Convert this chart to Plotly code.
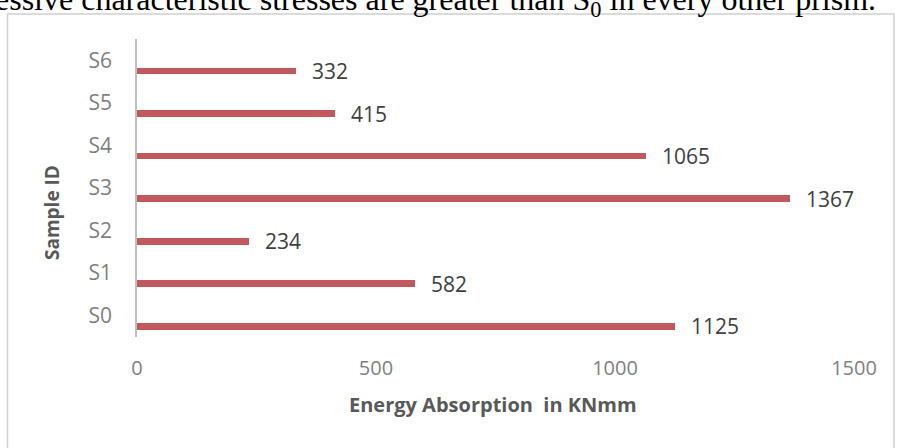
import plotly.graph_objects as go

# Energy absorption per sample
samples = ["S0", "S1", "S2", "S3", "S4", "S5", "S6"]
energy = [1125, 582, 234, 1367, 1065, 415, 332]
x_ticks = [0, 500, 1000, 1500]

W, H = 900, 448
L, R, T, B = 137, 46, 39, 111
PW, PH = W - L - R, H - T - B


def px(x):
    return (x - L) / PW


def py(y):
    return (H - B - y) / PH


BAR_COLOR = "#C0585C"
FONT = "Open Sans"

pos = list(range(len(samples)))
bar_y = [p - 0.25 for p in pos]

fig = go.Figure()
fig.add_trace(go.Bar(
    x=energy,
    y=bar_y,
    orientation="h",
    width=0.16,
    marker=dict(color=BAR_COLOR, line=dict(width=0)),
    hoverinfo="skip",
))

annotations = []
for v, yb in zip(energy, bar_y):
    annotations.append(dict(
        x=v, y=yb, xref="x", yref="y", text=str(v), showarrow=False,
        xanchor="left", yanchor="middle", xshift=14,
        font=dict(family=FONT, size=21, color="#404040"),
    ))

# axis titles
annotations.append(dict(
    x=px(493), y=py(404), xref="paper", yref="paper",
    text="<b>Energy Absorption  in KNmm</b>", showarrow=False,
    xanchor="center", yanchor="middle",
    font=dict(family=FONT, size=20, color="#595959"),
))
annotations.append(dict(
    x=px(52), y=py(213), xref="paper", yref="paper",
    text="<b>Sample ID</b>", showarrow=False, textangle=-90,
    xanchor="center", yanchor="middle",
    font=dict(family=FONT, size=19, color="#595959"),
))

# running text line above the chart frame
annotations.append(dict(
    x=px(878), y=py(2), xref="paper", yref="paper",
    text="essive characteristic stresses are greater than S<sub>0</sub> in every other prism.",
    showarrow=False, xanchor="right", yanchor="middle",
    font=dict(family="Liberation Serif", size=32, color="#000000"),
))

shapes = [dict(
    type="rect", xref="paper", yref="paper",
    x0=px(7.5), x1=px(894), y0=py(470), y1=py(14),
    line=dict(color="#D0D0D0", width=1.5), fillcolor="rgba(0,0,0,0)",
    layer="below",
)]

fig.update_layout(
    width=W, height=H,
    margin=dict(l=L, r=R, t=T, b=B, pad=0),
    paper_bgcolor="white", plot_bgcolor="white",
    showlegend=False,
    bargap=0,
    annotations=annotations,
    shapes=shapes,
    xaxis=dict(
        range=[0, 1500], tickvals=x_ticks, ticktext=[str(t) for t in x_ticks],
        showgrid=False, zeroline=False, showline=False, ticks="",
        ticklabelstandoff=17,
        tickfont=dict(family=FONT, size=20, color="#7F7F7F"),
        fixedrange=True,
    ),
    yaxis=dict(
        range=[-0.5, 6.5], tickvals=pos, ticktext=samples,
        showgrid=False, zeroline=False, showline=True,
        linecolor="#BFBFBF", linewidth=1.5, ticks="",
        ticklabelstandoff=19,
        tickfont=dict(family=FONT, size=21, color="#7F7F7F"),
        fixedrange=True,
    ),
)

fig.write_html("out.html")
